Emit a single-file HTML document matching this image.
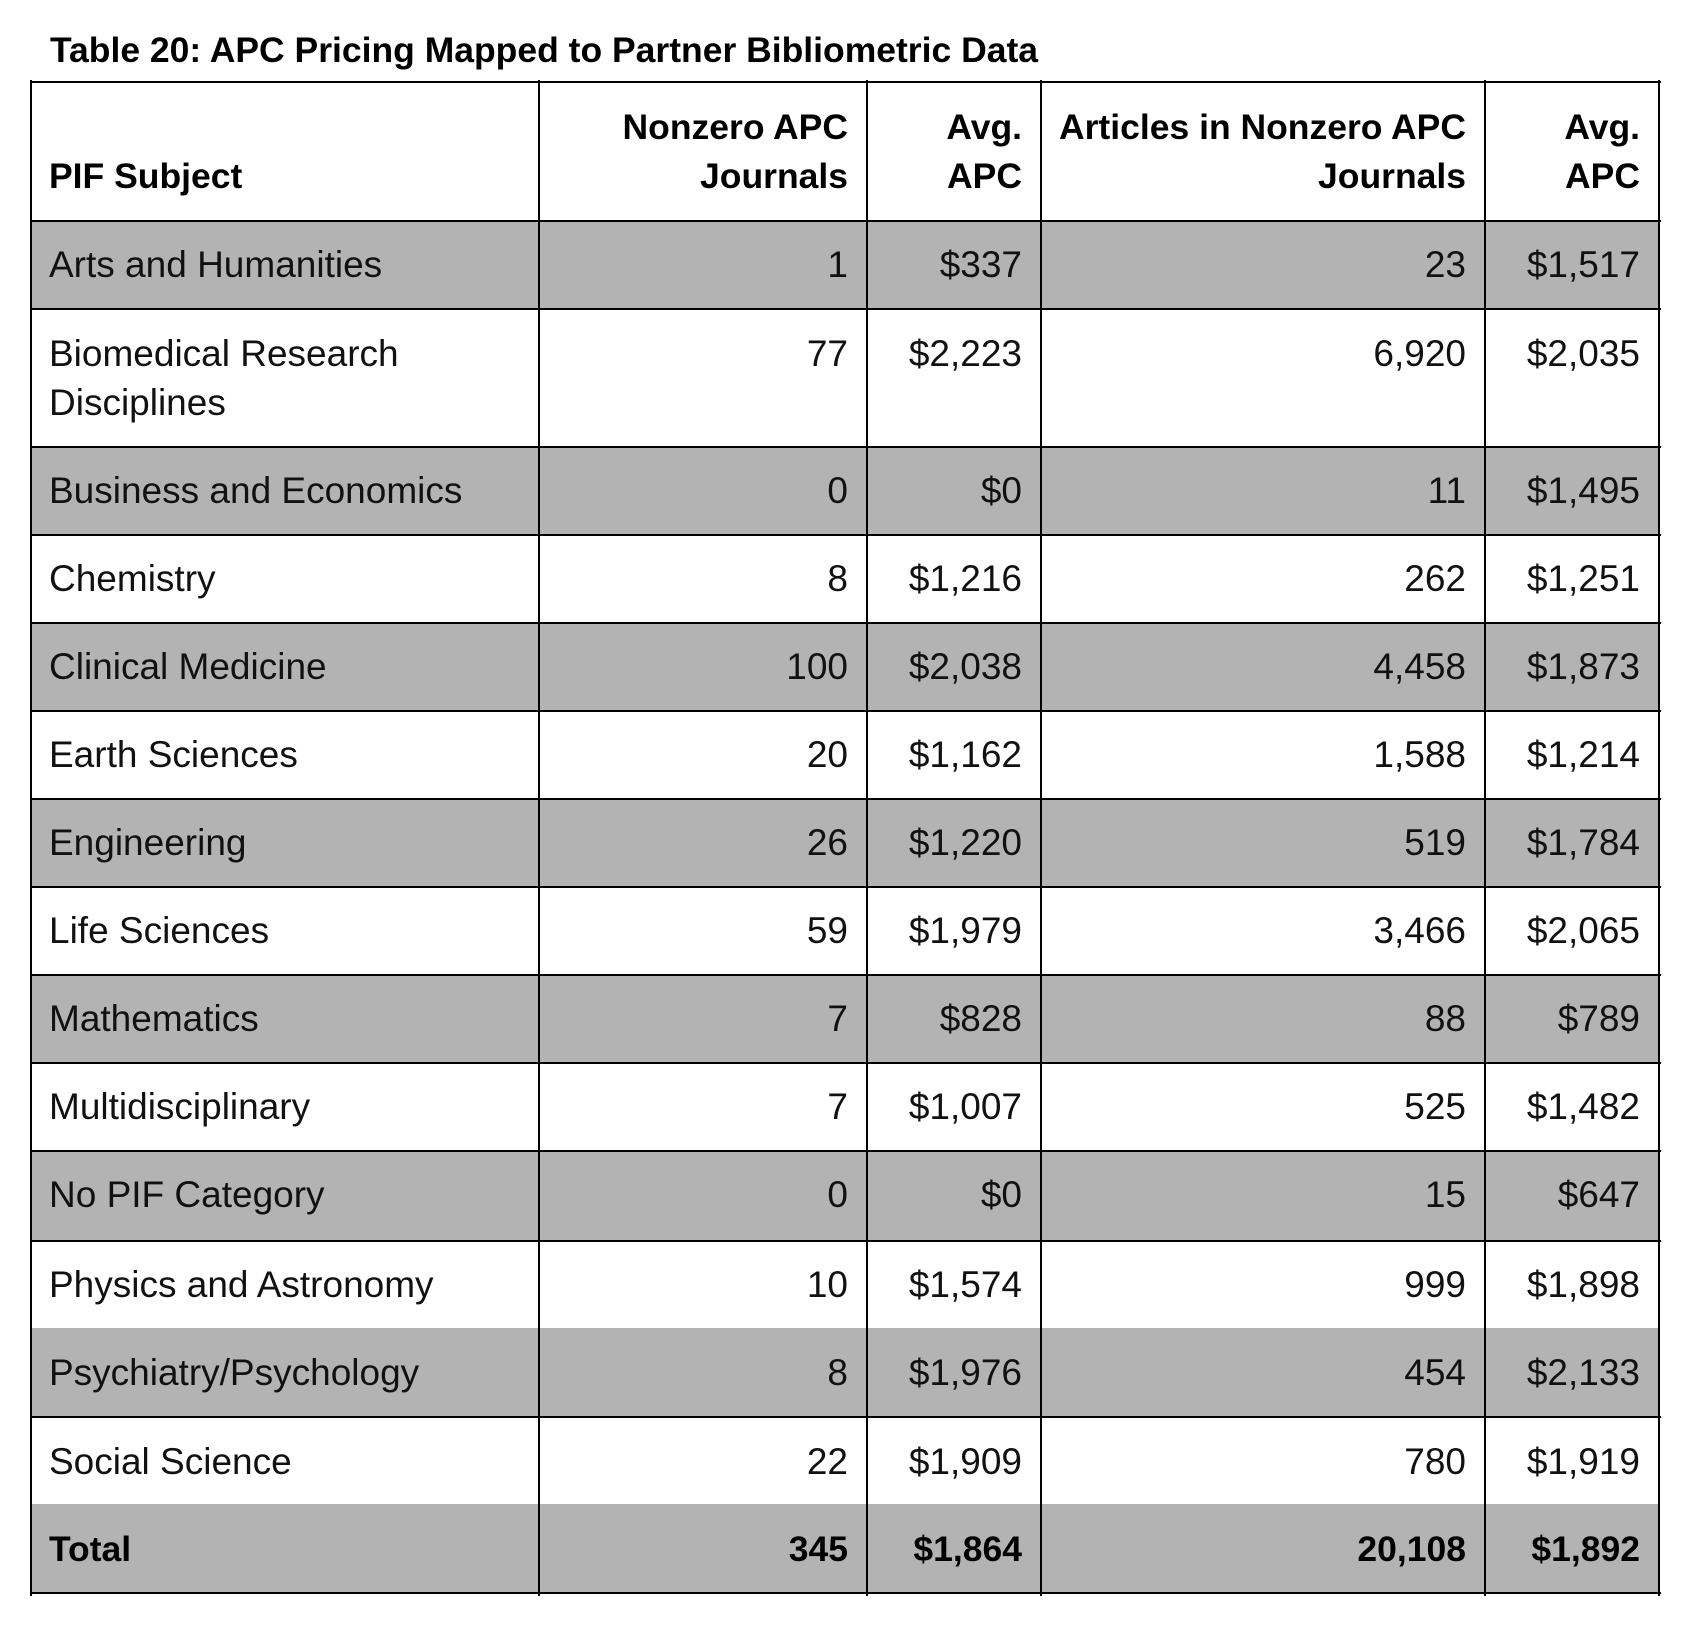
<!DOCTYPE html>
<html>
<head>
<meta charset="utf-8">
<style>
  html, body { margin:0; padding:0; background:#fff; }
  body { width:1684px; height:1626px; position:relative; overflow:hidden;
         font-family:"Liberation Sans", Arial, sans-serif; color:#111; }
  .g { position:absolute; left:31px; width:1628px; background:#b3b3b3; }
  .h { position:absolute; left:30px; width:1631px; height:2px; background:#000; }
  .v { position:absolute; top:80px; height:1516px; width:2px; background:#000; }
  .t { position:absolute; white-space:nowrap; line-height:49px; font-size:37px; }
  .b { font-weight:bold; font-size:35.5px; color:#000; }
  .r { text-align:right; }
  .c1 { left:49px; }
  .c2 { right:836px; }
  .c3 { right:662px; }
  .c4 { right:218px; }
  .c5 { right:44px; }
  .title { position:absolute; left:50px; top:26px; font-weight:bold; font-size:35px; line-height:49px;
           white-space:nowrap; transform:scaleX(1.014); transform-origin:0 0; color:#000; }
</style>
</head>
<body>

<div class="title">Table 20: APC Pricing Mapped to Partner Bibliometric Data</div>

<!-- gray row backgrounds -->
<div class="g" style="top:221px;height:88px;"></div>
<div class="g" style="top:447px;height:88px;"></div>
<div class="g" style="top:623px;height:88px;"></div>
<div class="g" style="top:799px;height:88px;"></div>
<div class="g" style="top:975px;height:88px;"></div>
<div class="g" style="top:1151px;height:89px;"></div>
<div class="g" style="top:1328px;height:89px;"></div>
<div class="g" style="top:1504px;height:89px;"></div>

<!-- horizontal lines -->
<div class="h" style="top:81px;"></div>
<div class="h" style="top:220px;"></div>
<div class="h" style="top:308px;"></div>
<div class="h" style="top:446px;"></div>
<div class="h" style="top:534px;"></div>
<div class="h" style="top:622px;"></div>
<div class="h" style="top:710px;"></div>
<div class="h" style="top:798px;"></div>
<div class="h" style="top:886px;"></div>
<div class="h" style="top:974px;"></div>
<div class="h" style="top:1062px;"></div>
<div class="h" style="top:1150px;"></div>
<div class="h" style="top:1240px;"></div>
<div class="h" style="top:1416px;"></div>
<div class="h" style="top:1592px;"></div>

<!-- vertical lines -->
<div class="v" style="left:30px;"></div>
<div class="v" style="left:538px;"></div>
<div class="v" style="left:866px;"></div>
<div class="v" style="left:1040px;"></div>
<div class="v" style="left:1484px;"></div>
<div class="v" style="left:1658px;"></div>

<!-- header -->
<div class="t b c1" style="top:152px;">PIF Subject</div>
<div class="t b r c2" style="top:103px;">Nonzero APC<br>Journals</div>
<div class="t b r c3" style="top:103px;">Avg.<br>APC</div>
<div class="t b r c4" style="top:103px;">Articles in Nonzero APC<br>Journals</div>
<div class="t b r c5" style="top:103px;">Avg.<br>APC</div>

<!-- Arts -->
<div class="t c1" style="top:240px;">Arts and Humanities</div>
<div class="t r c2" style="top:240px;">1</div>
<div class="t r c3" style="top:240px;">$337</div>
<div class="t r c4" style="top:240px;">23</div>
<div class="t r c5" style="top:240px;">$1,517</div>

<!-- Biomedical -->
<div class="t c1" style="top:329px;">Biomedical Research<br>Disciplines</div>
<div class="t r c2" style="top:329px;">77</div>
<div class="t r c3" style="top:329px;">$2,223</div>
<div class="t r c4" style="top:329px;">6,920</div>
<div class="t r c5" style="top:329px;">$2,035</div>

<!-- Business -->
<div class="t c1" style="top:466px;">Business and Economics</div>
<div class="t r c2" style="top:466px;">0</div>
<div class="t r c3" style="top:466px;">$0</div>
<div class="t r c4" style="top:466px;">11</div>
<div class="t r c5" style="top:466px;">$1,495</div>

<!-- Chemistry -->
<div class="t c1" style="top:554px;">Chemistry</div>
<div class="t r c2" style="top:554px;">8</div>
<div class="t r c3" style="top:554px;">$1,216</div>
<div class="t r c4" style="top:554px;">262</div>
<div class="t r c5" style="top:554px;">$1,251</div>

<!-- Clinical -->
<div class="t c1" style="top:642px;">Clinical Medicine</div>
<div class="t r c2" style="top:642px;">100</div>
<div class="t r c3" style="top:642px;">$2,038</div>
<div class="t r c4" style="top:642px;">4,458</div>
<div class="t r c5" style="top:642px;">$1,873</div>

<!-- Earth -->
<div class="t c1" style="top:730px;">Earth Sciences</div>
<div class="t r c2" style="top:730px;">20</div>
<div class="t r c3" style="top:730px;">$1,162</div>
<div class="t r c4" style="top:730px;">1,588</div>
<div class="t r c5" style="top:730px;">$1,214</div>

<!-- Engineering -->
<div class="t c1" style="top:818px;">Engineering</div>
<div class="t r c2" style="top:818px;">26</div>
<div class="t r c3" style="top:818px;">$1,220</div>
<div class="t r c4" style="top:818px;">519</div>
<div class="t r c5" style="top:818px;">$1,784</div>

<!-- Life -->
<div class="t c1" style="top:906px;">Life Sciences</div>
<div class="t r c2" style="top:906px;">59</div>
<div class="t r c3" style="top:906px;">$1,979</div>
<div class="t r c4" style="top:906px;">3,466</div>
<div class="t r c5" style="top:906px;">$2,065</div>

<!-- Mathematics -->
<div class="t c1" style="top:994px;">Mathematics</div>
<div class="t r c2" style="top:994px;">7</div>
<div class="t r c3" style="top:994px;">$828</div>
<div class="t r c4" style="top:994px;">88</div>
<div class="t r c5" style="top:994px;">$789</div>

<!-- Multidisciplinary -->
<div class="t c1" style="top:1082px;">Multidisciplinary</div>
<div class="t r c2" style="top:1082px;">7</div>
<div class="t r c3" style="top:1082px;">$1,007</div>
<div class="t r c4" style="top:1082px;">525</div>
<div class="t r c5" style="top:1082px;">$1,482</div>

<!-- No PIF -->
<div class="t c1" style="top:1170px;">No PIF Category</div>
<div class="t r c2" style="top:1170px;">0</div>
<div class="t r c3" style="top:1170px;">$0</div>
<div class="t r c4" style="top:1170px;">15</div>
<div class="t r c5" style="top:1170px;">$647</div>

<!-- Physics -->
<div class="t c1" style="top:1260px;">Physics and Astronomy</div>
<div class="t r c2" style="top:1260px;">10</div>
<div class="t r c3" style="top:1260px;">$1,574</div>
<div class="t r c4" style="top:1260px;">999</div>
<div class="t r c5" style="top:1260px;">$1,898</div>

<!-- Psychiatry -->
<div class="t c1" style="top:1348px;">Psychiatry/Psychology</div>
<div class="t r c2" style="top:1348px;">8</div>
<div class="t r c3" style="top:1348px;">$1,976</div>
<div class="t r c4" style="top:1348px;">454</div>
<div class="t r c5" style="top:1348px;">$2,133</div>

<!-- Social -->
<div class="t c1" style="top:1437px;">Social Science</div>
<div class="t r c2" style="top:1437px;">22</div>
<div class="t r c3" style="top:1437px;">$1,909</div>
<div class="t r c4" style="top:1437px;">780</div>
<div class="t r c5" style="top:1437px;">$1,919</div>

<!-- Total -->
<div class="t b c1" style="top:1525px;">Total</div>
<div class="t b r c2" style="top:1525px;">345</div>
<div class="t b r c3" style="top:1525px;">$1,864</div>
<div class="t b r c4" style="top:1525px;">20,108</div>
<div class="t b r c5" style="top:1525px;">$1,892</div>

</body>
</html>
